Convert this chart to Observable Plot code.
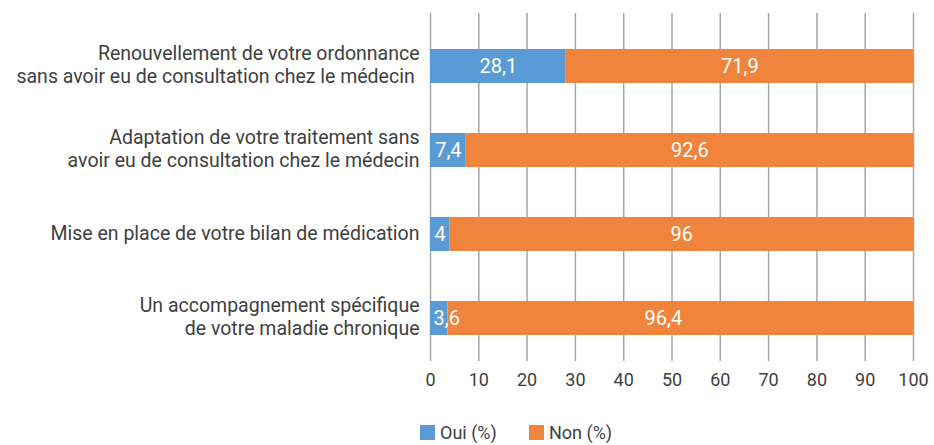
<!DOCTYPE html>
<html><head><meta charset="utf-8">
<script src="https://cdn.jsdelivr.net/npm/d3@7"></script>
<script src="https://cdn.jsdelivr.net/npm/@observablehq/plot@0.6"></script>
<style>
body{margin:0;background:#fff;font-family:"Roboto",sans-serif;color:#404040;width:934px;height:445px;overflow:hidden}
#legend{position:relative;height:45px}
.item{position:absolute;top:22px;display:flex;align-items:center;font-size:18px;color:#404040}
.sw{width:15px;height:15px;margin-right:5px}
</style>
</head><body><div id="chart"></div><div id="legend"></div>
<script>
const categories = [
  "Renouvellement de votre ordonnance\nsans avoir eu de consultation chez le médecin ",
  "Adaptation de votre traitement sans\navoir eu de consultation chez le médecin",
  "Mise en place de votre bilan de médication",
  "Un accompagnement spécifique\nde votre maladie chronique"
];
const oui = [28.1, 7.4, 4, 3.6];
const non = [71.9, 92.6, 96, 96.4];
const seriesNames = ["Oui (%)", "Non (%)"];
const colors = ["#5b9bd5", "#f0843c"];
const xTicks = [0, 10, 20, 30, 40, 50, 60, 70, 80, 90, 100];

const W = 934, ML = 430, MR = 21, FS = 20;
const pxPerUnit = (W - ML - MR) / 100;
const fmt = v => String(v).replace(".", ",");
const fits = d => fmt(d.v).length * FS * 0.5 <= d.v * pxPerUnit;

const rows = categories.flatMap((c, i) => [
  {cat: c, serie: seriesNames[0], v: oui[i]},
  {cat: c, serie: seriesNames[1], v: non[i]}
]);

const plot = Plot.plot({
  width: W,
  height: 400,
  marginLeft: ML,
  marginRight: MR,
  marginTop: 22.6,
  marginBottom: 39,
  style: {fontFamily: "Roboto, sans-serif", color: "#404040"},
  x: {domain: [0, 100]},
  y: {domain: categories, paddingInner: 0.6, paddingOuter: 0.3, axis: null},
  color: {domain: seriesNames, range: colors},
  marks: [
    Plot.ruleX(xTicks, {stroke: "#a6a6a6", strokeWidth: 1.5, insetTop: -9.6, insetBottom: 0}),
    Plot.barX(rows, Plot.stackX({x: "v", y: "cat", fill: "serie", order: seriesNames})),
    Plot.text(rows, Plot.stackX({x: "v", y: "cat", z: "serie", order: seriesNames, filter: fits,
      text: d => fmt(d.v), fill: "white", fontSize: FS})),
    Plot.text(rows.filter(d => !fits(d)), {x1: () => 0, x: () => 0, y: "cat", dx: 3, textAnchor: "start",
      text: d => fmt(d.v), fill: "white", fontSize: FS}),
    Plot.axisX({ticks: xTicks, tickSize: 0, tickPadding: 12, fontSize: 18, label: null, fill: "#404040"}),
    Plot.text(categories, {y: d => d, x: () => 0, text: d => d, dx: -11, dy: -2, textAnchor: "end",
      lineHeight: 1.18, fontSize: 19.5, fill: "#404040"})
  ]
});
document.getElementById("chart").appendChild(plot);

const legend = document.getElementById("legend");
const lx = [420, 529];
seriesNames.forEach((s, i) => {
  const it = document.createElement("div");
  it.className = "item";
  it.style.left = lx[i] + "px";
  it.innerHTML = `<span class="sw" style="background:${colors[i]}"></span><span>${s}</span>`;
  legend.appendChild(it);
});
</script>
</body></html>
